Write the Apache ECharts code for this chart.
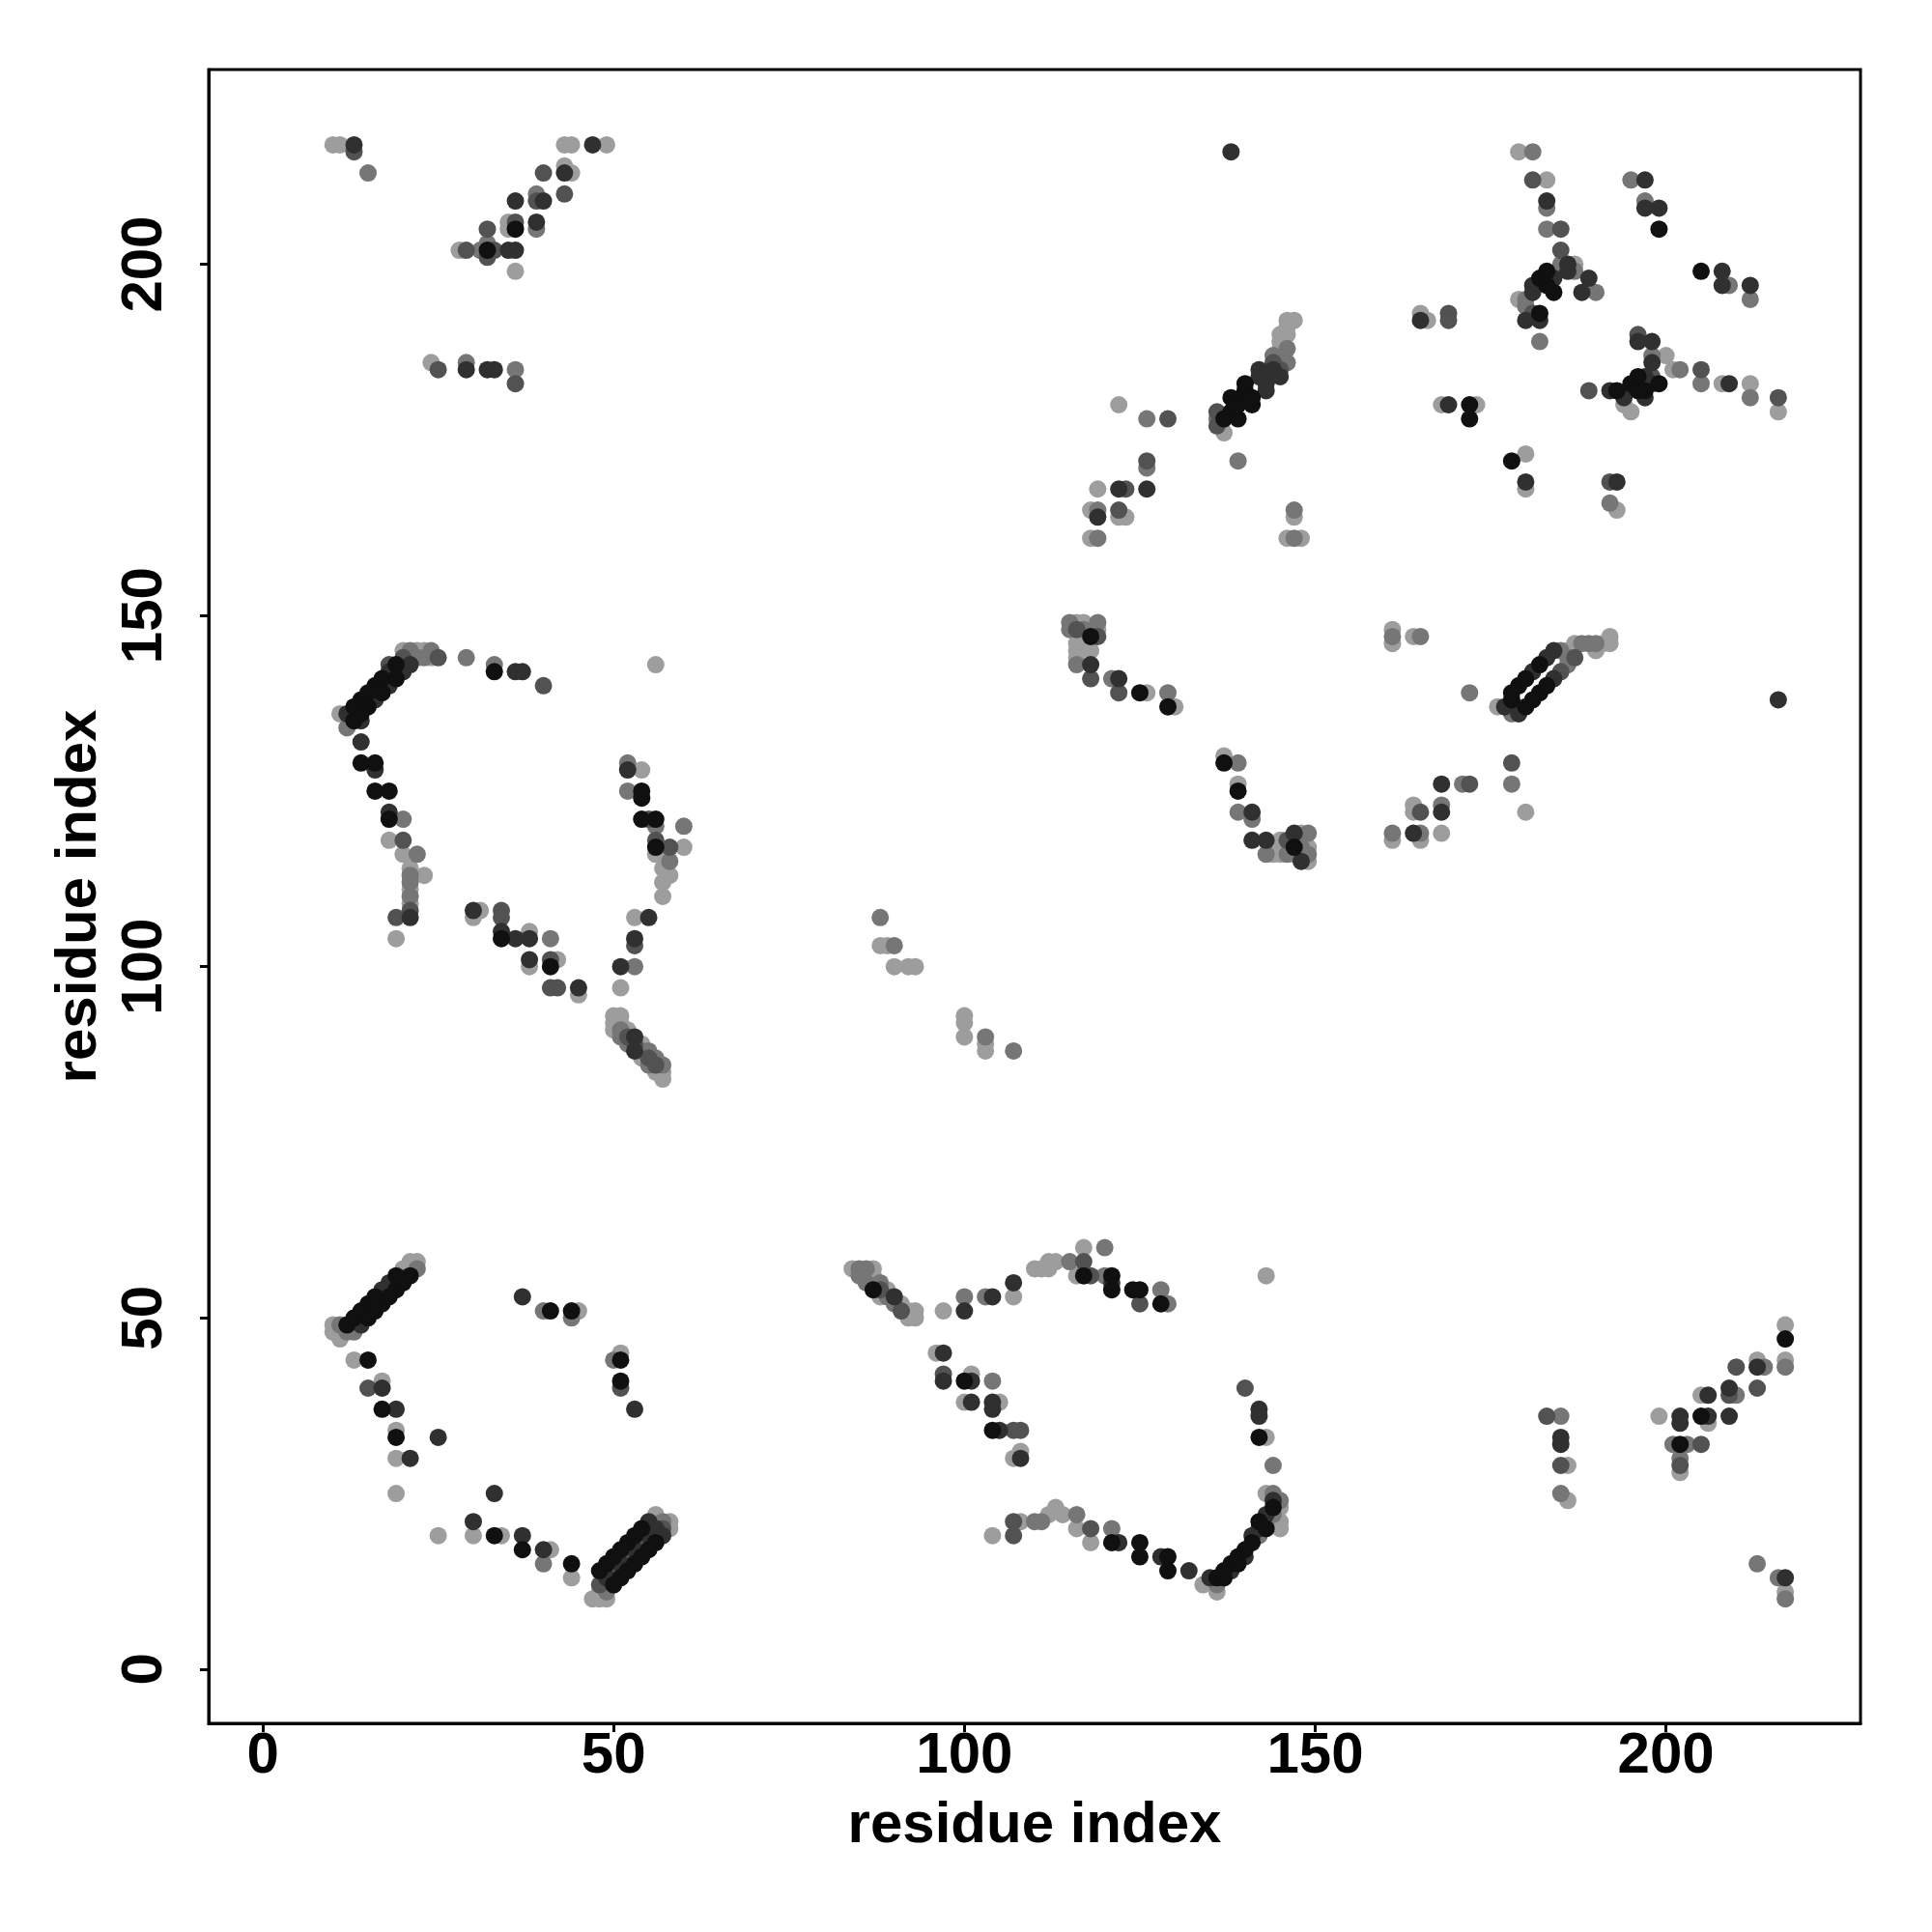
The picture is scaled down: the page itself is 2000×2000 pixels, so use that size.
<!DOCTYPE html>
<html><head><meta charset="utf-8">
<script src="https://cdn.jsdelivr.net/npm/echarts@6/dist/echarts.min.js"></script>
<style>html,body{margin:0;padding:0;background:#fff}#c{width:2000px;height:2000px}</style>
</head><body><div id="c"></div>
<script>
// tick labels
const tickValues = [0, 50, 100, 150, 200];
const axisTitle = 'residue index';

// contacts [i, j, grayLevel]  grayLevel: 0 black ... 4 light gray
const clusterTopLeft = [
 [10,217,4],[11,217,4],[13,216,2],[13,217,1],[15,213,3],
 [43,217,4],[44,217,4],[47,217,1],[49,217,4],
 [40,213,2],[43,214,4],[43,213,1],[44,213,4],[43,210,2],
 [36,209,1],[39,210,3],[39,209,2],[40,209,1],
 [35,206,4],[35,205,4],[36,206,2],[36,205,0],[39,205,3],[39,206,1],
 [32,205,2],[32,203,3],
 [28,202,4],[29,202,2],[31,202,3],[32,201,2],[32,202,0],[33,202,2],[35,202,1],[36,202,1],
 [36,199,4],
 [24,186,4],[25,185,2],[29,186,3],[29,185,1],[32,185,1],[33,185,1],[36,185,3],[36,183,2]
];
const clusterLeftMid = [
 [20,145,4],[22,145,4],[24,145,3],[21,145,3],[23,145,4],[25,144,2],[24,144,4],[22,144,3],[20,144,2],
 [21,143,1],[19,143,0],[18,142,1],[20,142,1],[17,141,0],[19,141,0],[16,140,0],[18,140,1],[15,139,0],
 [17,139,0],[14,138,0],[16,138,1],[13,137,0],[15,137,0],[12,136,1],[14,136,0],[11,136,4],[13,135,0],
 [12,134,3],[14,135,1],[18,143,2],[23,144,3],
 [29,144,3],[33,143,3],[33,142,0],[36,142,1],[37,142,1],[40,140,2],[56,143,4],
 [14,132,1],[14,129,0],[16,129,0],[16,128,1],[16,125,0],[18,125,0],[18,122,1],[18,121,0],[20,121,3],
 [18,118,4],[20,118,2],[20,116,4],[22,116,3],[21,114,4],[23,113,4],[21,113,3],[21,112,3],[21,111,4],
 [21,110,3],[21,109,4],[21,108,2],[19,107,2],[21,107,1],[19,104,4],
 [30,108,1],[31,108,4],[30,107,4],[34,108,2],[34,107,2],[34,105,1],[34,104,0],[36,104,1],[38,105,4],
 [38,104,1],[41,104,3],[38,101,1],[38,100,4],[41,101,2],[41,100,0],[42,101,4],[41,97,2],[42,97,2],
 [45,97,1],[45,96,4],
 [52,129,3],[52,128,1],[54,128,4],[52,125,3],[54,125,0],[54,124,0],[54,121,0],[56,121,0],[55,121,2],
 [60,120,3],[56,120,3],[56,118,2],[56,117,0],[58,117,2],[60,117,4],[56,116,4],[58,115,3],[57,114,4],
 [58,113,4],[57,112,4],[57,110,4],[53,107,4],[55,107,1],[53,104,1],[53,103,2],[51,100,1],[53,100,3],[51,97,4],
 [50,93,4],[51,93,4],[50,92,4],[51,92,4],[50,91,4],[51,91,3],[52,91,4],[51,90,3],[52,90,2],[53,90,1],
 [52,89,3],[53,89,2],[54,89,4],[53,88,1],[54,88,3],[55,88,3],[54,87,4],[55,87,2],[56,87,3],[55,86,3],
 [56,86,2],[57,86,3],[56,85,4],[57,85,4],[57,84,4]
];
const clusterCentre = [
 [88,107,3],[88,103,4],[89,103,4],[90,103,3],[90,100,4],[92,100,4],[93,100,4],
 [100,93,4],[100,92,4],[100,90,4],[103,90,3],[103,89,4],[103,88,4],[107,88,3]
];
const clusterBottomLeft = [
 [10,48,4],[10,49,4],[11,47,4],[11,49,3],[12,49,0],[12,48,3],[13,50,0],[14,49,1],[14,51,0],[15,50,0],
 [15,52,0],[16,51,0],[16,53,0],[17,52,0],[17,54,1],[18,53,0],[18,55,1],[19,54,0],[19,56,0],[20,55,0],
 [20,57,4],[21,56,0],[21,58,4],[22,57,3],[22,58,4],[13,48,3],
 [13,44,4],[15,44,0],[15,40,2],[17,41,4],[17,40,1],[17,37,0],[19,37,1],[19,34,4],[19,33,0],[25,33,1],
 [19,30,4],[21,30,1],[19,25,4],[33,25,1],[25,19,4],[30,21,1],[30,19,4],[33,19,0],[34,19,4],[37,19,1],
 [37,17,0],[40,17,1],[41,17,4],[40,15,3],[44,15,0],[44,13,4],
 [37,53,1],[40,51,3],[41,51,0],[44,51,0],[45,51,4],[44,50,3],[51,45,4],[50,44,3],[51,44,0],[51,41,0],
 [51,40,2],[53,37,1],
 [47,10,4],[48,10,4],[49,10,4],[48,11,4],[49,11,3],[48,12,2],[48,14,0],[49,15,0],[50,16,0],[51,17,0],
 [52,18,0],[53,19,0],[54,20,0],[55,21,1],[56,22,4],[50,12,0],[51,13,0],[52,14,0],[53,15,0],[54,16,0],
 [55,17,0],[56,18,0],[57,19,1],[58,20,4],[58,21,4],[57,21,3],[49,13,1],[50,14,2],[51,15,1],[52,16,2],
 [53,17,1],[54,18,2],[55,19,1],[56,20,1],[57,20,2]
];
const clusterBottomMid = [
 [84,57,4],[85,57,3],[86,57,3],[87,57,4],[85,56,3],[87,56,4],[86,55,3],[88,55,3],[87,54,0],[89,54,4],
 [88,54,2],[90,53,1],[89,53,3],[88,53,4],[91,52,4],[90,52,3],[92,51,4],[93,51,4],[92,50,4],[93,50,4],[91,51,2],
 [97,51,4],[100,53,3],[100,51,1],[103,53,3],[104,53,1],[107,55,1],[107,53,4],
 [110,57,4],[111,57,4],[112,58,4],[112,57,4],[113,58,4],[115,58,3],[117,60,4],[120,60,3],[117,58,2],
 [117,56,0],[116,56,4],[118,56,2],[120,56,3],[121,56,0],[121,55,1],[121,54,0],[124,54,0],[125,54,0],
 [125,52,2],[128,54,3],[128,52,0],[129,52,3],[143,56,4],
 [96,45,4],[97,45,1],[97,42,2],[97,41,1],[100,41,0],[101,42,4],[101,41,1],[104,41,3],[100,38,4],[101,38,1],
 [104,38,1],[104,37,1],[105,38,4],[104,34,0],[105,34,1],[107,34,2],[108,34,2],[107,30,4],[108,31,4],[108,30,1],
 [104,19,4],[107,21,2],[107,19,2],[108,21,4],[110,21,3],[111,21,3],[112,22,4],[113,23,4],[114,22,4],
 [116,22,3],[116,20,4],[118,20,2],[118,18,4],[121,20,3],[121,18,0],[122,18,1],[125,18,0],[125,16,0],
 [128,16,1],[129,16,0],[129,14,0],[132,14,1],
 [134,12,4],[135,13,1],[136,11,4],[136,12,3],[136,13,0],[137,13,0],[137,14,0],[138,14,1],[138,15,0],
 [139,15,0],[139,16,0],[140,16,1],[140,17,0],[141,18,0],[141,19,1],[142,19,3],[142,20,1],[142,21,0],
 [143,20,0],[143,21,3],[143,22,1],[144,22,3],[144,23,0],[144,24,1],[145,23,4],[145,24,3],[145,21,4],
 [145,20,4],[143,25,4],[144,25,3],
 [140,40,2],[142,37,1],[142,36,1],[142,33,0],[143,33,4],[144,29,3]
];
const clusterBottomRight = [
 [183,36,2],[185,36,3],[185,33,1],[185,32,1],[185,29,2],[186,29,4],[185,25,3],[186,24,4],
 [199,36,4],[202,36,1],[202,35,1],[201,32,3],[202,32,0],[203,32,3],[205,32,2],[202,30,3],[202,29,2],[202,28,4],
 [205,39,4],[206,39,1],[205,36,0],[206,36,1],[206,35,4],[209,40,1],[209,39,2],[210,39,3],[209,36,1],
 [210,43,2],[213,44,4],[213,43,1],[214,43,3],[213,40,2],[217,49,4],[217,47,0],[217,44,4],[217,43,3],
 [213,15,3],[216,13,3],[217,13,1],[217,11,4],[217,10,3]
];
const clusterMidRight = [
 [115,149,3],[116,149,4],[117,149,4],[119,149,3],[115,148,3],[116,148,2],[118,147,0],[119,148,4],
 [119,147,2],[116,146,4],[116,145,4],[118,145,4],[116,144,4],[116,143,3],[118,143,1],[118,141,2],
 [121,141,3],[122,141,1],[122,139,2],[125,139,0],[126,139,4],[129,139,3],[129,137,0],[130,137,4],
 [117,147,4],[117,148,3],
 [161,148,4],[161,147,3],[161,146,4],[164,147,4],[165,147,3],
 [168,126,1],[164,123,4],[164,122,4],[165,122,2],[168,123,3],[168,122,1],[161,119,3],[161,118,4],
 [164,119,1],[165,119,3],[165,118,4],[168,119,4],
 [137,130,4],[137,129,0],[139,129,3],[139,126,4],[139,125,0],[139,122,3],[141,122,1],[141,121,3],
 [141,118,1],[143,118,1],[145,118,4],[146,118,2],[147,119,1],[147,117,0],[148,119,4],[149,119,3],
 [143,116,3],[144,116,4],[145,116,4],[146,116,3],[148,117,3],[149,117,4],[149,116,3],[149,115,4],
 [148,115,1],[147,116,4],
 [172,139,3],[176,137,4],[177,137,1],[178,136,3],[179,136,1],[178,138,0],[178,139,0],[180,137,0],
 [179,140,0],[180,141,0],[181,138,0],[181,142,1],[182,139,0],[182,143,0],[183,140,0],[183,144,1],
 [184,141,1],[184,145,1],[185,142,2],[185,145,3],[186,143,3],[186,144,3],[186,145,4],[187,146,4],
 [188,146,3],[189,146,3],[190,146,3],[190,145,4],[191,146,4],[192,147,4],[192,146,4],[187,144,2],
 [216,138,1],[178,129,2],[178,126,3],[180,122,4],[171,126,3],[172,126,2]
];
const clusterUpperMid = [
 [122,180,4],[126,178,3],[129,178,2],
 [136,177,2],[136,178,3],[136,179,2],[137,176,4],[137,178,0],[138,179,0],[138,181,0],[139,178,0],
 [139,180,0],[140,182,0],[140,183,0],[141,180,0],[141,181,0],[142,184,1],[142,185,1],[143,182,1],
 [143,183,1],[144,186,2],[144,187,3],[145,184,1],[145,185,2],[145,188,4],[145,189,4],[146,186,3],
 [146,190,4],[146,191,4],[146,192,4],[147,192,4],[145,190,4],[144,185,1],[146,188,3],
 [139,172,3],[126,172,2],[126,171,3],[119,168,4],[122,168,1],[123,168,2],[126,168,1],[118,165,4],
 [119,165,3],[119,164,1],[122,165,2],[123,164,4],[122,164,4],[118,161,4],[119,161,3],
 [147,165,3],[147,164,4],[146,161,4],[147,161,3],[148,161,4]
];
const clusterTopRight = [
 [138,216,1],[165,193,4],[165,192,1],[166,192,4],[169,193,2],[169,192,2],[168,180,4],[169,180,1],
 [172,180,0],[173,180,4],[172,178,0],[178,172,0],[180,173,4],[180,169,1],[180,168,4],
 [179,216,4],[181,216,3],[181,212,2],[183,212,4],[183,209,1],[183,208,3],[183,205,3],[185,205,2],[185,202,2],
 [179,195,4],[180,194,3],[180,195,3],[181,196,1],[181,197,1],[182,193,0],[182,192,1],[182,198,0],
 [183,199,0],[183,197,0],[184,196,0],[184,198,1],[185,200,3],[186,199,1],[186,200,1],[187,200,4],
 [187,199,3],[188,196,1],[189,198,1],[190,196,3],[181,193,2],[182,189,3],[180,192,1],
 [195,212,3],[197,212,1],[197,209,3],[197,208,1],[199,208,1],[199,205,0],
 [205,199,0],[208,199,1],[208,197,1],[209,197,3],[212,197,1],[212,195,3],
 [196,190,2],[196,189,1],[198,189,1],[198,187,3],[200,187,4],[198,186,1],[201,185,4],[202,185,3],[205,185,2],
 [199,183,0],[197,184,1],[196,184,0],[195,183,0],[193,182,0],[192,182,1],[189,182,2],[194,181,1],
 [194,180,4],[195,179,4],[197,181,1],[198,183,1],[196,182,0],[197,182,0],[198,184,2],
 [205,183,3],[208,183,4],[209,183,1],[212,183,4],[212,181,3],[216,181,2],[216,179,4],
 [192,169,2],[193,169,1],[192,166,3],[193,165,4]
];

const grayColors = ['#101010', '#303030', '#525252', '#767676', '#9d9d9d'];

const allContacts = [].concat(clusterTopLeft, clusterLeftMid, clusterCentre, clusterBottomLeft,
  clusterBottomMid, clusterBottomRight, clusterMidRight, clusterUpperMid, clusterTopRight);

// one series per gray level, lightest drawn first
const series = [];
for (let lv = 4; lv >= 0; lv--) {
  series.push({
    type: 'scatter',
    name: 'level' + lv,
    symbol: 'circle',
    symbolSize: 18,
    silent: true,
    itemStyle: { color: grayColors[lv], opacity: 1 },
    data: allContacts.filter(p => p[2] === lv).map(p => [p[0], p[1]])
  });
}

const font = { fontFamily: 'Liberation Sans', fontWeight: 'bold', fontSize: 60, color: '#000' };
const chart = echarts.init(document.getElementById('c'), null, { renderer: 'canvas' });
chart.setOption({
  animation: false,
  backgroundColor: '#fff',
  grid: { left: 216, right: 74, top: 72, bottom: 216, show: true, borderColor: '#000', borderWidth: 3, backgroundColor: 'transparent' },
  xAxis: {
    type: 'value', min: -7.72, max: 227.72,
    name: axisTitle, nameLocation: 'middle', nameGap: 76, nameTextStyle: font,
    axisLine: { show: true, onZero: false, lineStyle: { color: '#000', width: 3 } },
    axisTick: { show: true, customValues: tickValues, length: 9, inside: false, lineStyle: { color: '#000', width: 3 } },
    axisLabel: Object.assign({ customValues: tickValues, margin: 4 }, font),
    splitLine: { show: false }
  },
  yAxis: {
    type: 'value', min: -7.72, max: 227.72,
    name: axisTitle, nameLocation: 'middle', nameGap: 104, nameTextStyle: font,
    axisLine: { show: true, onZero: false, lineStyle: { color: '#000', width: 3 } },
    axisTick: { show: true, customValues: tickValues, length: 9, inside: false, lineStyle: { color: '#000', width: 3 } },
    axisLabel: Object.assign({ customValues: tickValues, margin: 36, rotate: 90 }, font),
    splitLine: { show: false }
  },
  series: series
});
</script>
</body></html>
